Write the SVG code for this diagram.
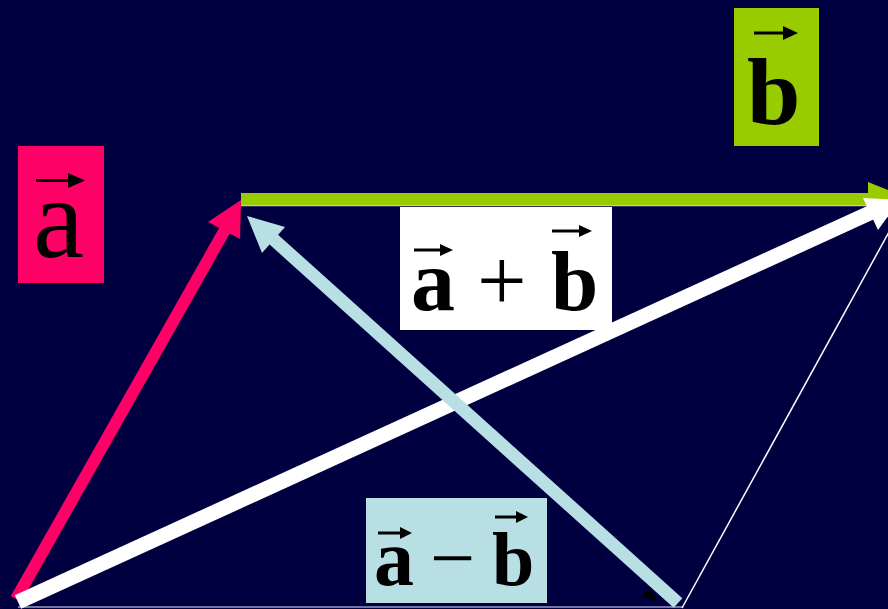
<svg xmlns="http://www.w3.org/2000/svg" width="888" height="609" viewBox="0 0 888 609">
  <style>
    .lbl { font-family: "Liberation Serif", "Times New Roman", serif; fill: #000000; }
    .b { font-weight: bold; }
    .acc { stroke: #000000; stroke-width: 3; }
  </style>
  <rect x="0" y="0" width="888" height="609" fill="#000040"/>
  <g id="connectors">
    <line x1="18" y1="607" x2="682" y2="607" stroke="#9A9AC8" stroke-width="1.5"/>
    <line x1="682" y1="608" x2="900" y2="212" stroke="#FFFFFF" stroke-width="1.5"/>
    <g id="vec-b">
      <line x1="241" y1="205.5" x2="870" y2="205.5" stroke="#C8C8C8" stroke-width="1.5"/>
      <line x1="241" y1="199" x2="870" y2="199" stroke="#99CC00" stroke-width="12"/>
      <polygon points="868,182 868,216 910,199" fill="#99CC00"/>
    </g>
    <g id="vec-a">
      <line x1="16" y1="599" x2="226" y2="228" stroke="#FF0066" stroke-width="12"/>
      <polygon points="241,200 240,239 208,222" fill="#FF0066"/>
    </g>
    <g id="vec-sum">
      <line x1="18" y1="602" x2="872" y2="212" stroke="#FFFFFF" stroke-width="15"/>
      <polygon points="900,200 878,230 863,198" fill="#FFFFFF"/>
    </g>
    <g id="vec-diff">
      <line x1="678" y1="603" x2="272" y2="238" stroke="#B8E0E4" stroke-width="13"/>
      <polygon points="247,216 285,227 262,253" fill="#B8E0E4"/>
    </g>
    <polygon points="642,596 650,588 658,602" fill="#000000"/>
  </g>
  <g id="label-a">
    <rect x="18" y="146" width="86" height="137" fill="#FF0066"/>
    <text class="lbl" x="33" y="257" font-size="115">a</text>
    <line class="acc" x1="36" y1="180.5" x2="74" y2="180.5"/>
    <polygon points="68,173 85,180.5 68,188" fill="#000000"/>
  </g>
  <g id="label-b">
    <rect x="734" y="8" width="85" height="138" fill="#99CC00"/>
    <text class="lbl b" x="747" y="124" font-size="96">b</text>
    <line class="acc" x1="754" y1="33" x2="788" y2="33"/>
    <polygon points="783,26 798,33 783,40" fill="#000000"/>
  </g>
  <g id="label-sum">
    <rect x="400" y="207" width="212" height="123" fill="#FFFFFF"/>
    <text class="lbl b" x="411" y="310" font-size="88">a</text>
    <text class="lbl" x="477" y="310" font-size="88">+</text>
    <text class="lbl b" x="551" y="310" font-size="85">b</text>
    <line class="acc" x1="414" y1="250" x2="444" y2="250"/>
    <polygon points="440,244 453,250 440,256" fill="#000000"/>
    <line class="acc" x1="552" y1="231" x2="583" y2="231"/>
    <polygon points="579,225 592,231 579,237" fill="#000000"/>
  </g>
  <g id="label-diff">
    <rect x="366" y="498" width="181" height="105" fill="#B8E0E4"/>
    <text class="lbl b" x="374" y="585" font-size="80">a</text>
    <text class="lbl" x="430" y="585" font-size="80">−</text>
    <text class="lbl b" x="492" y="585" font-size="76">b</text>
    <line class="acc" x1="378" y1="533" x2="404" y2="533"/>
    <polygon points="400,527 412,533 400,539" fill="#000000"/>
    <line class="acc" x1="495" y1="517" x2="520" y2="517"/>
    <polygon points="516,511 528,517 516,523" fill="#000000"/>
  </g>
</svg>
